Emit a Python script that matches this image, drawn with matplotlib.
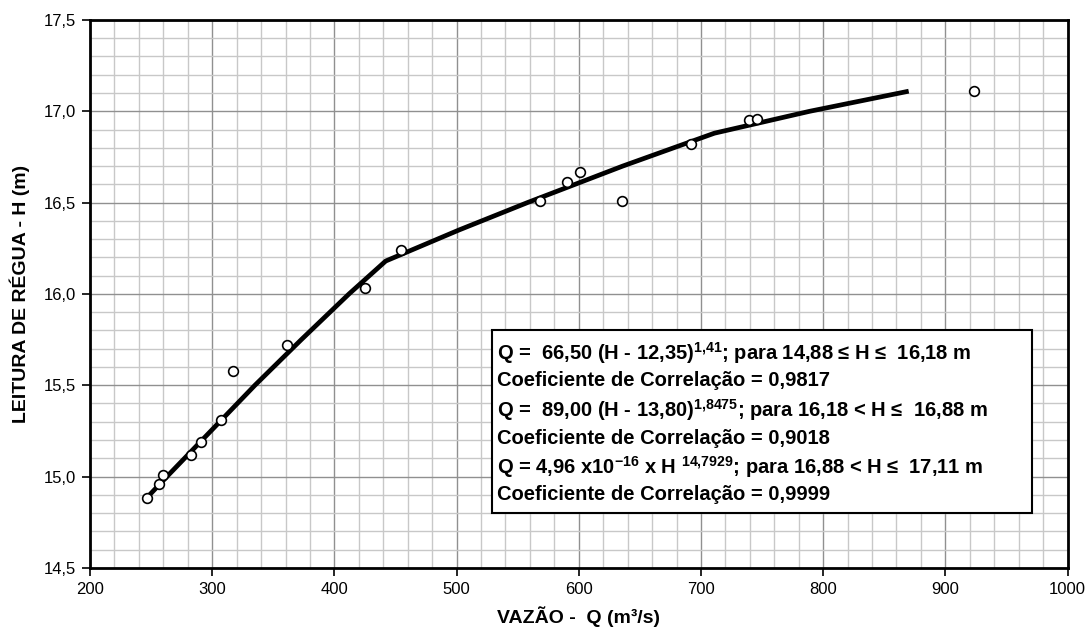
import matplotlib
matplotlib.use("Agg")
import matplotlib.pyplot as plt
from matplotlib.patches import Rectangle
from matplotlib.ticker import MultipleLocator, FuncFormatter

plt.rcParams['font.family'] = ['Liberation Sans', 'DejaVu Sans']
plt.rcParams['mathtext.fontset'] = 'custom'
plt.rcParams['mathtext.rm'] = 'Liberation Sans'
plt.rcParams['mathtext.bf'] = 'Liberation Sans:bold'

# medições (vazão x cota)
q_obs = [246.6, 256.7, 260.0, 282.4, 291.1, 307.2, 317.0, 360.9, 425.0, 454.6,
         568.4, 590.2, 600.6, 635.3, 691.7, 739.0, 745.7, 923.7]
h_obs = [14.88, 14.96, 15.01, 15.12, 15.19, 15.31, 15.58, 15.72, 16.03, 16.24,
         16.51, 16.61, 16.67, 16.51, 16.82, 16.95, 16.96, 17.11]

# curva-chave
q_curve = [246, 263, 299, 335, 373, 412, 442, 502, 558, 636, 711, 789, 870]
h_curve = [14.88, 15.0, 15.25, 15.5, 15.75, 16.0, 16.18, 16.35, 16.5, 16.7, 16.88, 17.0, 17.11]

eq_lines = [
    r"Q =  66,50 (H - 12,35)$^{\mathbf{1{,}41}}$; para 14,88 ≤ H ≤  16,18 m",
    "Coeficiente de Correlação = 0,9817",
    r"Q =  89,00 (H - 13,80)$^{\mathbf{1{,}8475}}$; para 16,18 < H ≤  16,88 m",
    "Coeficiente de Correlação = 0,9018",
    r"Q = 4,96 x10$^{\mathbf{-16}}$ x H $^{\mathbf{14{,}7929}}$; para 16,88 < H ≤  17,11 m",
    "Coeficiente de Correlação = 0,9999",
]
eq_y = [0.3798, 0.3323, 0.2757, 0.2264, 0.1716, 0.1241]

fig = plt.figure(figsize=(10.91, 6.38), dpi=100)
ax = fig.add_axes([0.0825, 0.110, 0.896, 0.8587])

ax.plot(q_curve, h_curve, color='black', lw=3.4, solid_capstyle='butt', zorder=3)
ax.plot(q_obs, h_obs, 'o', ms=7, mfc='white', mec='black', mew=1.2, zorder=4)

ax.set_xlim(200, 1000)
ax.set_ylim(14.5, 17.5)
ax.xaxis.set_major_locator(MultipleLocator(100))
ax.xaxis.set_minor_locator(MultipleLocator(20))
ax.yaxis.set_major_locator(MultipleLocator(0.5))
ax.yaxis.set_minor_locator(MultipleLocator(0.1))
ax.yaxis.set_major_formatter(FuncFormatter(lambda v, p: f"{v:.1f}".replace('.', ',')))

ax.grid(which='major', color='#909090', lw=1.0)
ax.grid(which='minor', color='#c8c8c8', lw=1.0)
ax.set_axisbelow(True)
ax.tick_params(which='minor', length=0)
ax.tick_params(which='major', length=6, width=1.2, direction='out', labelsize=12,
               colors='black', pad=4)
for s in ax.spines.values():
    s.set_linewidth(2.0)
    s.set_color('black')

ax.set_xlabel("VAZÃO -  Q (m³/s)", fontsize=14, fontweight='bold', labelpad=7)
ax.set_ylabel("LEITURA DE RÉGUA - H (m)", fontsize=14, fontweight='bold', labelpad=10)

# quadro com as equações
ax.add_patch(Rectangle((0.411, 0.1008), 0.5526, 0.3332, transform=ax.transAxes,
                       fc='white', ec='black', lw=1.5, zorder=5))
for txt, yy in zip(eq_lines, eq_y):
    ax.text(0.416, yy, txt, transform=ax.transAxes, fontsize=14.5, fontweight='bold',
            va='baseline', ha='left', zorder=6)

fig.savefig("out.png", dpi=100)
